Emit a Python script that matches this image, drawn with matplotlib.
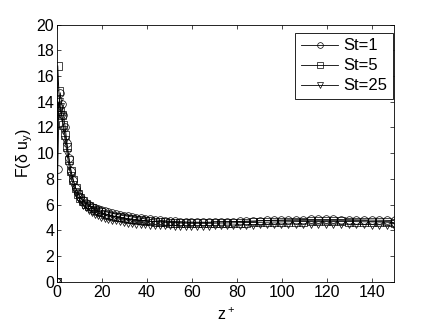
import matplotlib
matplotlib.use("Agg")
import matplotlib.pyplot as plt

plt.rcParams['font.family'] = ['Liberation Sans', 'DejaVu Sans']
plt.rcParams['mathtext.fontset'] = 'custom'
plt.rcParams['mathtext.rm'] = 'Liberation Sans'
plt.rcParams['mathtext.it'] = 'Liberation Sans'

# wall-normal positions (shared by all three cases)
z_plus = [0, 0.3, 0.8, 1.4, 2.1, 2.8, 3.6, 4.4, 5.3, 6.2, 7.2, 8.2, 9.3, 10.4,
          11.6, 12.8, 14.1, 15.4, 16.8, 18.2, 19.7, 21.2, 22.8, 24.4, 26.1,
          27.8, 29.6, 31.4, 33.3, 35.2, 37.2, 39.2, 41.3, 43.4, 45.6, 47.8,
          50.1, 52.4, 54.8, 57.2, 59.7, 62.2, 64.8, 67.4, 70.1, 72.8, 75.6,
          78.4, 81.3, 84.2, 87.2, 90.2, 93.3, 96.4, 99.6, 102.8, 106.1, 109.4,
          112.8, 116.2, 119.6, 123.0, 126.4, 129.8, 133.2, 136.6, 140.0, 143.4,
          146.8, 150.2]

flat_st1 = [0, 8.8, 13.6, 14.7, 13.8, 13.0, 12.0, 10.8, 9.6, 8.6, 7.9, 7.3, 6.9,
            6.6, 6.35, 6.15, 6.0, 5.85, 5.75, 5.65, 5.55, 5.47, 5.4, 5.33, 5.27,
            5.2, 5.15, 5.1, 5.05, 5.0, 4.95, 4.9, 4.86, 4.82, 4.78, 4.75, 4.72,
            4.7, 4.68, 4.66, 4.65, 4.64, 4.64, 4.64, 4.65, 4.66, 4.67, 4.68,
            4.7, 4.72, 4.73, 4.75, 4.77, 4.79, 4.8, 4.82, 4.83, 4.84, 4.85,
            4.85, 4.85, 4.85, 4.84, 4.83, 4.82, 4.81, 4.8, 4.79, 4.78, 4.77]

flat_st5 = [0, 16.8, 14.8, 13.3, 13.0, 12.2, 11.4, 10.5, 9.5, 8.6, 7.9, 7.3,
            6.85, 6.5, 6.25, 6.05, 5.9, 5.75, 5.62, 5.5, 5.4, 5.3, 5.22, 5.15,
            5.08, 5.02, 4.97, 4.92, 4.88, 4.84, 4.8, 4.76, 4.72, 4.69, 4.66,
            4.63, 4.61, 4.59, 4.57, 4.56, 4.55, 4.55, 4.55, 4.55, 4.56, 4.57,
            4.58, 4.59, 4.6, 4.61, 4.62, 4.63, 4.64, 4.65, 4.66, 4.67, 4.68,
            4.69, 4.7, 4.7, 4.7, 4.7, 4.7, 4.69, 4.68, 4.67, 4.66, 4.65, 4.64,
            4.6]

flat_st25 = [0, 13.0, 14.0, 13.6, 12.8, 11.8, 11.0, 10.0, 9.0, 8.2, 7.5, 7.0,
             6.6, 6.3, 6.0, 5.8, 5.6, 5.45, 5.3, 5.18, 5.07, 4.98, 4.9, 4.83,
             4.77, 4.71, 4.66, 4.61, 4.57, 4.53, 4.5, 4.47, 4.45, 4.43, 4.41,
             4.4, 4.39, 4.38, 4.37, 4.37, 4.37, 4.37, 4.38, 4.38, 4.39, 4.4,
             4.41, 4.42, 4.43, 4.44, 4.45, 4.46, 4.47, 4.48, 4.49, 4.5, 4.5,
             4.5, 4.5, 4.5, 4.5, 4.5, 4.49, 4.48, 4.47, 4.46, 4.45, 4.44, 4.4,
             4.3]

series = [("St=1", flat_st1, "o"), ("St=5", flat_st5, "s"), ("St=25", flat_st25, "v")]

fig = plt.figure(figsize=(4.36, 3.27), dpi=100)
ax = fig.add_axes([0.131, 0.138, 0.773, 0.787])

for label, vals, mk in series:
    ax.plot(z_plus, vals, color="black", linewidth=0.6, marker=mk,
            markersize=5.5, markerfacecolor="none", markeredgewidth=0.5,
            label=label)

ax.set_xlim(0, 150)
ax.set_ylim(0, 20)
ax.set_xticks(range(0, 141, 20))
ax.set_yticks(range(0, 21, 2))
ax.tick_params(direction="in", top=True, right=True, length=3, width=0.5,
               labelsize=11.5, pad=2)
for sp in ax.spines.values():
    sp.set_linewidth(0.6)

ax.set_xlabel("z$^+$", fontsize=11.5, labelpad=5)
ax.set_ylabel(r"F($\delta$ u$_y$)", fontsize=11.5, labelpad=1)

leg = ax.legend(loc="upper right", bbox_to_anchor=(0.996, 0.969),
                fontsize=12, fancybox=False, edgecolor="black", framealpha=1,
                handlelength=2.2, borderaxespad=0, labelspacing=0.3,
                handletextpad=0.3, borderpad=0.35, markerscale=0.75)
leg.get_frame().set_linewidth(0.6)

fig.savefig("out.png", dpi=100)
